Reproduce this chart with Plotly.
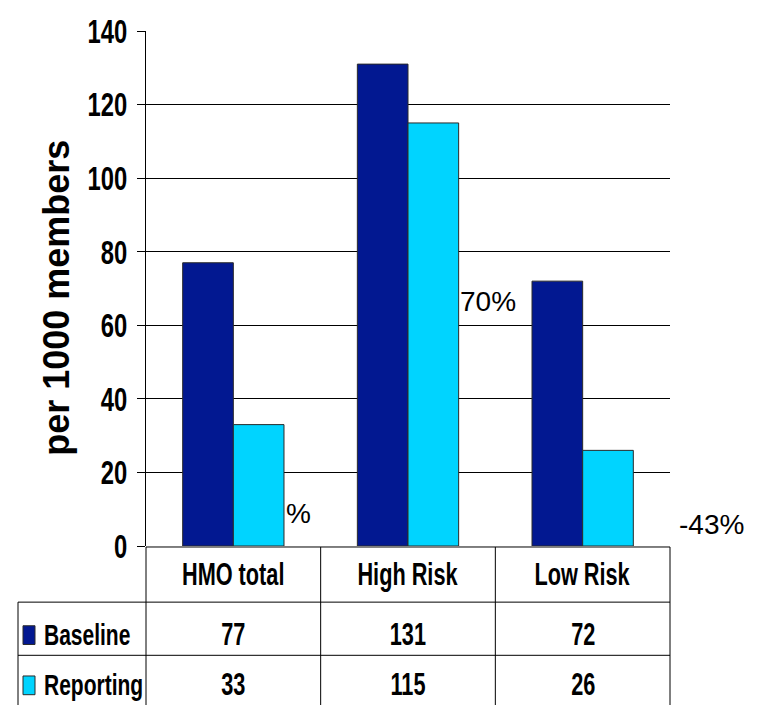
import json
import plotly.graph_objects as go

# ---- data ----
categories = ["HMO total", "High Risk", "Low Risk"]
series_names = ["Baseline", "Reporting"]
baseline = [77, 131, 72]
reporting = [33, 115, 26]
change_labels = ["%", "70%", "-43%"]
y_ticks = [0, 20, 40, 60, 80, 100, 120, 140]
y_title = "per 1000 members"

# ---- styling ----
NAVY = "#021891"
CYAN = "#00D4FF"
EDGE = "#2a2a2a"
FONT = "Liberation Sans, Arial, sans-serif"
SQUEEZE = 0.70  # horizontal condensing applied to the bold labels

W, H = 761, 705
ML, MR, MT, MB = 146, 91, 23, 159
plot_w = W - ML - MR
plot_h = H - MT - MB


def paper_y(px):
    """Convert a pixel row (from the top of the page) to paper y."""
    return (H - MB - px) / plot_h


def paper_x(px):
    """Convert a pixel column to x-domain units."""
    return (px - ML) / plot_w


fig = go.Figure()
for name, vals, col in [(series_names[0], baseline, NAVY), (series_names[1], reporting, CYAN)]:
    fig.add_trace(go.Bar(
        x=categories, y=vals, name=name,
        marker=dict(color=col, line=dict(color=EDGE, width=1)),
        hoverinfo="x+y+name",
    ))

fig.update_layout(
    width=W, height=H,
    margin=dict(l=ML, r=MR, t=MT, b=MB),
    barmode="group", bargap=0.42, bargroupgap=0,
    showlegend=False,
    plot_bgcolor="white", paper_bgcolor="white",
)

fig.update_yaxes(
    range=[0, 140], tickvals=y_ticks,
    showgrid=True, gridcolor="black", gridwidth=1,
    zeroline=False,
    showline=True, linecolor="black", linewidth=1,
    ticks="outside", ticklen=8, tickcolor="black", tickwidth=1,
    ticklabelstandoff=3,
    tickfont=dict(family=FONT, size=34, color="black", weight="bold"),
)
fig.update_xaxes(showticklabels=False, showline=False, ticks="", showgrid=False)

# y-axis title
fig.add_annotation(x=paper_x(57), xref="x domain", y=paper_y(294), yref="paper",
                   text=y_title, textangle=-90, showarrow=False,
                   font=dict(family=FONT, size=36, color="black", weight="bold"),
                   xanchor="center", yanchor="middle")

# ---- data table under the chart ----
n = len(categories)
row_lines = [paper_y(547), paper_y(603), paper_y(657)]
table_bottom = paper_y(712)
left_edge = paper_x(18)
line = dict(color="black", width=1)

# horizontal rules
fig.add_shape(type="line", xref="x domain", yref="paper", x0=0, x1=1,
              y0=row_lines[0], y1=row_lines[0], line=line)
for yy in row_lines[1:]:
    fig.add_shape(type="line", xref="x domain", yref="paper", x0=left_edge, x1=1,
                  y0=yy, y1=yy, line=line)
# vertical rules
for i in range(n + 1):
    fig.add_shape(type="line", xref="x domain", yref="paper", x0=i / n, x1=i / n,
                  y0=row_lines[0], y1=table_bottom, line=line)
fig.add_shape(type="line", xref="x domain", yref="paper", x0=left_edge, x1=left_edge,
              y0=row_lines[1], y1=table_bottom, line=line)

cell_font = dict(family=FONT, size=31, color="black", weight="bold")
name_font = dict(family=FONT, size=30, color="black", weight="bold")
row_centers = [paper_y(575), paper_y(636), paper_y(687)]

for cat in categories:
    fig.add_annotation(x=cat, xref="x", y=row_centers[0], yref="paper",
                       text=cat, showarrow=False, font=cell_font,
                       xanchor="center", yanchor="middle")

for r, (name, vals, col) in enumerate([(series_names[0], baseline, NAVY),
                                       (series_names[1], reporting, CYAN)]):
    yc = row_centers[r + 1]
    for cat, v in zip(categories, vals):
        fig.add_annotation(x=cat, xref="x", y=yc, yref="paper",
                           text=str(v), showarrow=False, font=cell_font,
                           xanchor="center", yanchor="middle")
    # legend key
    fig.add_shape(type="rect", xref="x domain", yref="paper",
                  x0=paper_x(23), x1=paper_x(35),
                  y0=yc - 10 / plot_h, y1=yc + 9 / plot_h,
                  fillcolor=col, line=dict(color=EDGE, width=1))
    fig.add_annotation(x=paper_x(42), xref="x domain", y=yc, yref="paper",
                       text=name, showarrow=False, font=name_font, align="left",
                       xanchor="left", yanchor="middle")

# ---- change labels ----
pct_font = dict(family=FONT, size=28, color="black")
pct_pos = [(paper_x(284), 8.8), (paper_x(458), 66.6), (paper_x(677), 5.9)]
for txt, (xd, yv) in zip(change_labels, pct_pos):
    fig.add_annotation(x=xd, xref="x domain", y=yv, yref="y", text=txt,
                       showarrow=False, font=pct_font, xanchor="left", yanchor="middle")

# Condense the bold tick and table labels horizontally (text stays real text).
condense_js = """
var gd = document.getElementById('{plot_id}');
var f = %s;
var skip = %s;
function isBold(t) {
  var w = t.style.fontWeight || window.getComputedStyle(t).fontWeight;
  return w === 'bold' || parseInt(w, 10) >= 600;
}
var nodes = gd.querySelectorAll('.ytick text, .annotation-text');
nodes.forEach(function (t) {
  if (!isBold(t)) return;
  if (t.textContent === skip) return;
  var w = t.getComputedTextLength();
  t.setAttribute('lengthAdjust', 'spacingAndGlyphs');
  t.setAttribute('textLength', (w * f).toFixed(2));
});
""" % (SQUEEZE, json.dumps(y_title))

fig.write_html("out.html", post_script=condense_js)
